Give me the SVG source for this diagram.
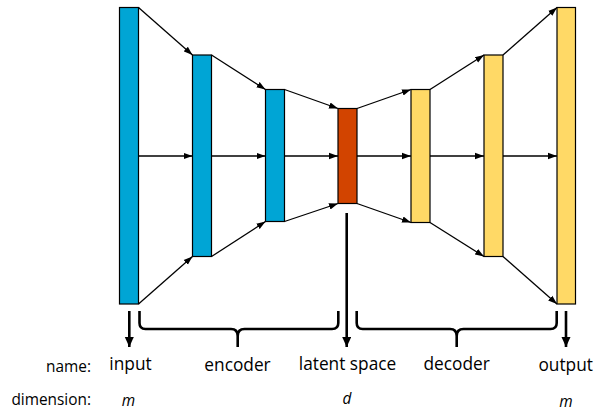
<svg xmlns="http://www.w3.org/2000/svg" width="595" height="410" viewBox="0 0 595 410">
  <style>
    .bar { stroke: #000; stroke-width: 1.2; }
    .enc { fill: #00A5D5; }
    .lat { fill: #D24400; }
    .dec { fill: #FFD966; }
    .link { stroke: #000; stroke-width: 1.3; fill: none; marker-end: url(#tip); }
    .drop { stroke: #000; stroke-width: 2.6; fill: none; marker-end: url(#tipBig); }
    .brace { stroke: #000; stroke-width: 2.6; fill: none; stroke-linejoin: round; }
    .lbl { font-family: "Open Sans", "Liberation Sans", sans-serif; font-size: 17.3px; fill: #000; text-anchor: middle; }
    .head { font-family: "Open Sans", "Liberation Sans", sans-serif; font-size: 15.4px; fill: #000; text-anchor: end; }
    .dim { font-family: "Open Sans", "Liberation Sans", sans-serif; font-size: 15.4px; font-style: italic; fill: #000; text-anchor: middle; }
  </style>
  <defs>
    <marker id="tip" markerUnits="userSpaceOnUse" markerWidth="10" markerHeight="8" refX="9" refY="4" orient="auto">
      <path d="M0,0.8 L9,4 L0,7.2 Z" fill="#000"/>
    </marker>
    <marker id="tipBig" markerUnits="userSpaceOnUse" markerWidth="11" markerHeight="10" refX="10" refY="4.5" orient="auto">
      <path d="M0,0 L10,4.5 L0,9 Z" fill="#000"/>
    </marker>
  </defs>

  <!-- connectors between layers -->
  <g id="connectors">
    <line class="link" x1="138.5" y1="7.5" x2="192.5" y2="55"/>
    <line class="link" x1="138.5" y1="156" x2="192.5" y2="156"/>
    <line class="link" x1="138.5" y1="304" x2="192.5" y2="256.5"/>

    <line class="link" x1="211.5" y1="55" x2="265.5" y2="89.5"/>
    <line class="link" x1="211.5" y1="156" x2="265.5" y2="156"/>
    <line class="link" x1="211.5" y1="256.5" x2="265.5" y2="221.5"/>

    <line class="link" x1="284.5" y1="89.5" x2="338" y2="108.5"/>
    <line class="link" x1="284.5" y1="156" x2="338" y2="156"/>
    <line class="link" x1="284.5" y1="221.5" x2="338" y2="203.5"/>

    <line class="link" x1="357" y1="108.5" x2="411" y2="89.5"/>
    <line class="link" x1="357" y1="156" x2="411" y2="156"/>
    <line class="link" x1="357" y1="203.5" x2="411" y2="222.5"/>

    <line class="link" x1="430" y1="89.5" x2="484" y2="55"/>
    <line class="link" x1="430" y1="156" x2="484" y2="156"/>
    <line class="link" x1="430" y1="222.5" x2="484" y2="256.5"/>

    <line class="link" x1="503" y1="55" x2="557" y2="7.5"/>
    <line class="link" x1="503" y1="156" x2="557" y2="156"/>
    <line class="link" x1="503" y1="256.5" x2="557" y2="304"/>

    <!-- outputs pointing down to the labels -->
    <line class="drop" x1="129.3" y1="311" x2="129.3" y2="347"/>
    <line class="drop" x1="346.7" y1="213" x2="346.7" y2="347"/>
    <line class="drop" x1="566" y1="311" x2="566" y2="347"/>

    <!-- braces -->
    <path class="brace" d="M139.5,311 L139.5,323 Q139.5,329 145.5,329 L231,329 Q237.7,329 237.7,336 L237.7,347 M237.7,336 Q237.7,329 244.5,329 L332,329 Q338.3,329 338.3,323 L338.3,311"/>
    <path class="brace" d="M356.7,311 L356.7,323 Q356.7,329 362.7,329 L450,329 Q456.7,329 456.7,336 L456.7,347 M456.7,336 Q456.7,329 463.5,329 L550.5,329 Q556.7,329 556.7,323 L556.7,311"/>
  </g>

  <!-- layers -->
  <g id="input-layer"><rect class="bar enc" x="119.5" y="7.5" width="19" height="296.5"/></g>
  <g id="encoder-layer-1"><rect class="bar enc" x="192.5" y="55" width="19" height="201.5"/></g>
  <g id="encoder-layer-2"><rect class="bar enc" x="265.5" y="89.5" width="19" height="132"/></g>
  <g id="latent-layer"><rect class="bar lat" x="338" y="108.5" width="19" height="95"/></g>
  <g id="decoder-layer-1"><rect class="bar dec" x="411" y="89.5" width="19" height="133"/></g>
  <g id="decoder-layer-2"><rect class="bar dec" x="484" y="55" width="19" height="201.5"/></g>
  <g id="output-layer"><rect class="bar dec" x="557" y="7.5" width="18.5" height="296.5"/></g>

  <!-- labels -->
  <g id="labels">
    <text class="head" x="91" y="372">name:</text>
    <text class="head" x="91" y="405">dimension:</text>

    <text class="lbl" x="130.5" y="369.5">input</text>
    <text class="lbl" x="237.5" y="371">encoder</text>
    <text class="lbl" x="347.5" y="369.5">latent space</text>
    <text class="lbl" x="456.7" y="369.5">decoder</text>
    <text class="lbl" x="565.7" y="371">output</text>

    <text class="dim" x="128.5" y="405.5">m</text>
    <text class="dim" x="347" y="403.5">d</text>
    <text class="dim" x="566" y="406.5">m</text>
  </g>
</svg>
